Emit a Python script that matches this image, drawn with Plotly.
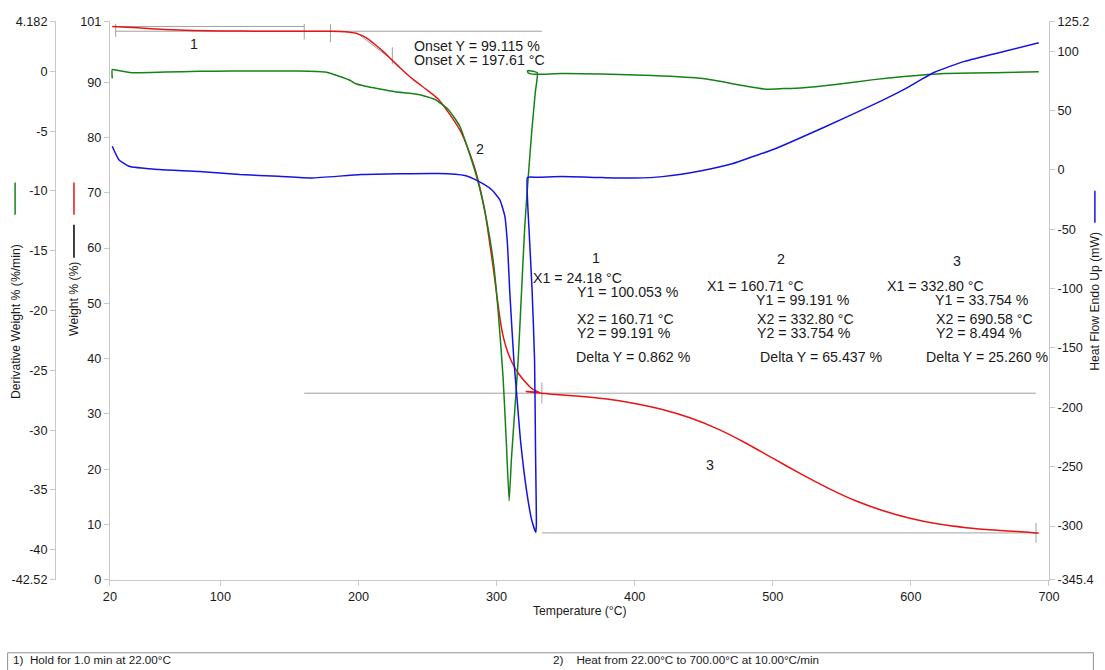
import plotly.graph_objects as go

# ---- TGA / DSC run data -------------------------------------------------
# Weight % (red, left inner axis)
temp_weight = [21.7, 40, 60, 80, 100, 130, 160.7, 180, 190, 197.6, 203.5, 208, 212, 218, 223.8,
               230, 240, 250, 257.8, 266, 274.4, 280, 284.5, 288, 291.7, 294.5, 297.5, 300, 302.6,
               305, 308.3, 312, 315.6, 320, 325, 328, 330.7, 321.5, 332.8, 340, 360, 380, 400, 420,
               440, 460, 480, 500, 520, 540, 560, 580, 600, 620, 640, 660, 680, 690.6, 692.6]
weight = [100.04, 99.8, 99.5, 99.3, 99.23, 99.2, 99.19, 99.17, 99.1, 98.85, 98.3, 97.6, 96.8, 95.5, 94.1,
          92.6, 90.4, 88.5, 86.9, 84.2, 80.9, 77.5, 74.2, 70.8, 66.4, 61.8, 56.6, 51.8, 47.0,
          43.8, 41.0, 38.9, 37.4, 36.0, 34.7, 34.2, 33.95, 34.05, 33.754, 33.55, 33.2, 32.7, 31.9, 30.8,
          29.3, 27.3, 24.8, 22.0, 19.2, 16.6, 14.3, 12.5, 11.1, 10.1, 9.45, 9.0, 8.7, 8.494, 8.47]

# Derivative weight %/min (green, left outer axis)
temp_deriv = [21.7, 21.7, 24.1, 35.9, 60.3, 84.3, 108.2, 132.5, 156.6, 175.9, 185.5, 194.9, 198, 205,
              214.4, 226.5, 243.3, 255.4, 265, 273.4, 279.4, 286.7, 292.7, 297.5, 301.1, 304.7, 307.1,
              309.1, 310.7, 313.2, 315.6, 318, 320.4, 322.5, 325.5, 328, 329.5, 327, 324, 322.4, 322.8,
              325, 330, 347.3, 376.4, 412.9, 449.3, 478.5, 495, 507.6, 522.2, 544, 573.2, 595.1, 624.2,
              668, 692.6]
deriv = [-0.6, 0.15, 0.1, -0.12, -0.07, -0.01, 0.02, 0.02, 0.02, -0.07, -0.4, -0.82, -1.05, -1.25,
         -1.46, -1.71, -1.94, -2.36, -3.19, -4.6, -6.55, -9.3, -12.4, -15.8, -20.0, -25.6, -31.1,
         -35.9, -32.5, -28.3, -24.2, -18.6, -13.0, -9.5, -5.0, -1.8, -0.12, -0.02, 0.05, 0.04, -0.12,
         -0.22, -0.26, -0.19, -0.23, -0.36, -0.61, -1.2, -1.5, -1.45, -1.37, -1.12, -0.7, -0.44, -0.19,
         -0.11, -0.05]

# Heat flow endo up, mW (blue, right axis)
temp_heat = [21.7, 26.5, 33.7, 55.7, 84.9, 114, 142.1, 166.2, 202.1, 257.8, 277, 286.7, 296.3, 302.3,
             306, 307.8, 309.6, 312.5, 314.5, 317.5, 322, 325.5, 328.4, 328.8, 328.2, 327.5, 325.7,
             323.5, 322.4, 322.3, 324.2, 330, 347.3, 376.4, 400.5, 420.1, 449.3, 471.2, 485.7, 500.3,
             536.8, 573.2, 595.1, 617, 638.8, 668, 692.6]
heat = [19.9, 8.6, 3.0, 0.25, -1.4, -4.0, -5.4, -6.8, -4.0, -3.1, -4.8, -9.5, -16.6, -25.1,
        -39.2, -61.4, -103.7, -160, -188, -230, -272.5, -295.3, -305.4, -299, -236.2, -160.2, -101.1,
        -50.4, -25.1, -6.5, -6.1, -6.2, -5.7, -6.5, -6.9, -5.7, -0.6, 5.3, 11.2, 17.1,
        35.7, 55.1, 67.8, 82.2, 91.4, 99.9, 107]

# Step analysis results: (X1, Y1, X2, Y2, delta)
step_x1 = [24.18, 160.71, 332.80]
step_y1 = [100.053, 99.191, 33.754]
step_x2 = [160.71, 332.80, 690.58]
step_y2 = [99.191, 33.754, 8.494]
step_delta = [0.862, 65.437, 25.260]

onset_x = 197.61
onset_y = 99.115
onset_tangent_end = (224.5, 94.0)

# Axis ticks
temp_ticks = [20, 100, 200, 300, 400, 500, 600, 700]
weight_ticks = [0, 10, 20, 30, 40, 50, 60, 70, 80, 90, 101]
deriv_ticks = [-42.52, -40, -35, -30, -25, -20, -15, -10, -5, 0, 4.182]
heat_ticks = [-345.4, -300, -250, -200, -150, -100, -50, 0, 50, 100, 125.2]

footer_left = "1)  Hold for 1.0 min at 22.00°C"
footer_right = "2)    Heat from 22.00°C to 700.00°C at 10.00°C/min"

# ---- Drawing -------------------------------------------------------------
# Layout positions below are given in page pixels of the 1105x670 view.
# The page body keeps an 8 px margin and the view is scaled to fit, so the
# helpers map page pixels back to figure paper coordinates.
FIG_W, FIG_H = 1105, 670
BODY = 8
SX = 1105 / 1121
SY = 670 / 686
AX = "#c8c8c8"
GRAY = "#a0a0a0"
FONT = "Liberation Sans, Arial, sans-serif"
TXT = "#1a1a1a"


def fx(px):
    return (px / SX - BODY) / FIG_W


def fy(py):
    return 1 - (py / SY - BODY) / FIG_H


def fmt(v):
    return ("%g" % v)


def fs(size):
    return round(size / SX, 1)


fig = go.Figure()

fig.add_trace(go.Scatter(x=temp_deriv, y=deriv, yaxis="y2", mode="lines",
                         line=dict(color="rgb(25,128,25)", width=1.5, shape="spline", smoothing=0.5),
                         hoverinfo="skip", showlegend=False))
fig.add_trace(go.Scatter(x=temp_heat, y=heat, yaxis="y3", mode="lines",
                         line=dict(color="rgb(20,20,225)", width=1.5, shape="spline", smoothing=0.5),
                         hoverinfo="skip", showlegend=False))
fig.add_trace(go.Scatter(x=temp_weight, y=weight, yaxis="y", mode="lines",
                         line=dict(color="rgb(230,20,20)", width=1.5, shape="spline", smoothing=0.5),
                         hoverinfo="skip", showlegend=False))

shapes = []


def gline(x0, y0, x1, y1):
    shapes.append(dict(type="line", xref="x", yref="y", x0=x0, y0=y0, x1=x1, y1=y1,
                       line=dict(color=GRAY, width=1), layer="below"))


# step baselines: each step spans X1..X2 at its Y1 and Y2 levels
for i in range(3):
    gline(step_x1[i], step_y1[i], step_x2[i], step_y1[i])
    gline(step_x1[i], step_y2[i], step_x2[i], step_y2[i])

# end markers
gline(step_x1[0], 98.2, step_x1[0], 100.5)
gline(step_x2[0], 97.7, step_x2[0], 100.5)
gline(step_x2[1], 31.9, step_x2[1], 35.7)
gline(step_x2[2], 6.7, step_x2[2], 10.3)
# onset construction
gline(179.7, 97.2, 179.7, 100.5)
gline(onset_tangent_end[0], 93.2, onset_tangent_end[0], 96.3)
gline(onset_x, onset_y, onset_tangent_end[0], onset_tangent_end[1])


def pline(x0, y0, x1, y1, color, width=1.5):
    shapes.append(dict(type="line", xref="paper", yref="paper", x0=fx(x0), y0=fy(y0),
                       x1=fx(x1), y1=fy(y1), line=dict(color=color, width=width)))


# axis colour keys
pline(16, 183, 16, 215, "rgb(25,128,25)")
pline(75, 183, 75, 215, "rgb(230,20,20)")
pline(75, 225, 75, 258, "black")
pline(1098, 191, 1098, 223, "rgb(20,20,225)")

# footer box
shapes.append(dict(type="rect", xref="paper", yref="paper", x0=fx(8.5), y0=fy(680), x1=fx(1096.5),
                   y1=fy(652), line=dict(color="#909090", width=1)))

annotations = []


def ptext(x, y, text, size=14, xanchor="left", angle=0, family=FONT):
    annotations.append(dict(xref="paper", yref="paper", x=fx(x), y=fy(y), text=text,
                            showarrow=False, xanchor=xanchor, yanchor="middle", textangle=angle,
                            font=dict(family=family, size=fs(size), color=TXT)))


# axis titles
ptext(582, 610, "Temperature (°C)", size=12, xanchor="center")
ptext(17, 322, "Derivative Weight % (%/min)", size=12, xanchor="center", angle=-90)
ptext(75, 299, "Weight % (%)", size=12, xanchor="center", angle=-90)
ptext(1098, 301, "Heat Flow Endo Up (mW)", size=12, xanchor="center", angle=-90)

# step numbers on the curve
ptext(195, 45, "1", xanchor="center")
ptext(482, 149, "2", xanchor="center")
ptext(712, 465, "3", xanchor="center")

# onset
ptext(414, 47, "Onset Y = %.3f %%" % onset_y)
ptext(414, 61, "Onset X = %.2f °C" % onset_x)

# step tables
hdr_x = [598, 783, 960]
hdr_y = [258, 259, 261]
x1_left = [532.5, 707.5, 888]
x1_y = [278, 286, 286]
y1_left = [577, 756, 936]
y1_y = [292, 300, 300]
x2_left = [577, 757.5, 937]
delta_left = [576.5, 760, 927]
for i in range(3):
    ptext(hdr_x[i], hdr_y[i], str(i + 1), xanchor="center")
    ptext(x1_left[i], x1_y[i], "X1 = %.2f °C" % step_x1[i])
    ptext(y1_left[i], y1_y[i], "Y1 = %.3f %%" % step_y1[i])
    ptext(x2_left[i], 319, "X2 = %.2f °C" % step_x2[i])
    ptext(x2_left[i], 333, "Y2 = %.3f %%" % step_y2[i])
    ptext(delta_left[i], 357, "Delta Y = %.3f %%" % step_delta[i])

# method footer
NARROW = "Liberation Sans Narrow, Arial Narrow, Liberation Sans, sans-serif"
ptext(12, 659, footer_left, size=11.5, family=NARROW)
ptext(553, 659, footer_right, size=11.5, family=NARROW)

tickfont = dict(family=FONT, size=fs(12.5), color=TXT)
axis_common = dict(showline=True, linecolor=AX, linewidth=1, ticks="outside", ticklen=5,
                   tickcolor=AX, showgrid=False, zeroline=False, tickfont=tickfont)

fig.update_layout(
    width=FIG_W, height=FIG_H, autosize=False,
    margin=dict(l=0, r=0, t=0, b=0),
    paper_bgcolor="white", plot_bgcolor="white",
    showlegend=False,
    xaxis=dict(domain=[fx(111), fx(1052)], range=[20, 700], tickvals=temp_ticks,
               ticktext=[fmt(v) for v in temp_ticks], **axis_common),
    yaxis=dict(domain=[fy(579.3), fy(22)], range=[0, 101], tickvals=weight_ticks,
               ticktext=[fmt(v) for v in weight_ticks], anchor="x", side="left", **axis_common),
    yaxis2=dict(overlaying="y", anchor="free", position=fx(56), side="left",
                range=[-42.52, 4.182], tickvals=deriv_ticks,
                ticktext=[fmt(v) for v in deriv_ticks], **axis_common),
    yaxis3=dict(overlaying="y", anchor="x", side="right", range=[-345.4, 125.2],
                tickvals=heat_ticks, ticktext=[fmt(v) for v in heat_ticks], **axis_common),
    shapes=shapes,
    annotations=annotations,
)

fig.write_html("out.html")
